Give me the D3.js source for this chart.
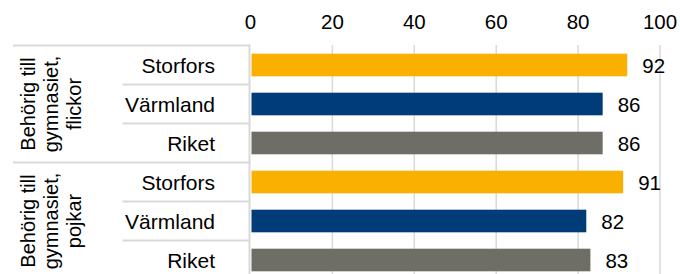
<!DOCTYPE html>
<html>
<head>
<meta charset="utf-8">
<script src="https://cdn.jsdelivr.net/npm/d3@7"></script>
<style>
  html, body { margin: 0; padding: 0; background: #fff; }
  svg { display: block; }
  text { font-family: "Liberation Sans", Arial, sans-serif; fill: #000; }
</style>
</head>
<body>
<svg id="chart" width="680" height="274"></svg>
<script>
// ---- data ----
const groups = [
  ["Behörig till", "gymnasiet,", "flickor"],
  ["Behörig till", "gymnasiet,", "pojkar"]
];
const categories = ["Storfors", "Värmland", "Riket"];
const girlsValues = [92, 86, 86];
const boysValues = [91, 82, 83];
const barColors = ["#F9B000", "#003C78", "#6E6D66"];
const xTicks = [0, 20, 40, 60, 80, 100];

// ---- build rows ----
const rows = [];
[girlsValues, boysValues].forEach((vals, g) => {
  categories.forEach((c, i) => {
    rows.push({ key: g + "-" + c, group: g, cat: c, idx: i, value: vals[i] });
  });
});

const svg = d3.select("#chart");
const gridColor = "#d9d9d9";

const x = d3.scaleLinear().domain([0, 100]).range([250.5, 660]);
const y = d3.scaleBand().domain(rows.map(r => r.key)).range([45.5, 279.5])
  .paddingInner(0.42).paddingOuter(0.21);
const step = y.step();
const rowTop = i => 45.5 + i * step;

// gridlines
svg.append("g").selectAll("line").data(xTicks.filter(t => t > 0)).join("line")
  .attr("x1", d => x(d)).attr("x2", d => x(d))
  .attr("y1", 45).attr("y2", 280)
  .attr("stroke", gridColor).attr("stroke-width", 1.5);

// top axis tick labels
const axis = svg.append("g").attr("transform", "translate(0,29)");
axis.selectAll("text").data(xTicks).join("text")
  .attr("x", d => x(d)).attr("y", 0)
  .attr("text-anchor", "middle")
  .style("font-size", "20.5px")
  .text(d => d);

// table lines
const tbl = svg.append("g").attr("stroke", gridColor).attr("stroke-width", 2);
for (let i = 0; i <= rows.length; i++) {
  const yy = rowTop(i);
  const startX = (i % categories.length === 0) ? 13 : 122.5;
  tbl.append("line").attr("x1", startX).attr("x2", 250).attr("y1", yy).attr("y2", yy);
}
// vertical axis line
tbl.append("line").attr("x1", 249.5).attr("x2", 249.5).attr("y1", 44.5).attr("y2", 280);

// bars
svg.append("g").selectAll("rect").data(rows).join("rect")
  .attr("x", x(0) + 1)
  .attr("y", d => y(d.key))
  .attr("width", d => x(d.value) - x(0) - 1)
  .attr("height", y.bandwidth())
  .attr("fill", d => barColors[d.idx]);

// value labels
svg.append("g").selectAll("text").data(rows).join("text")
  .attr("x", d => x(d.value) + 15)
  .attr("y", d => y(d.key) + y.bandwidth() / 2 + 7.5)
  .style("font-size", "20.5px")
  .text(d => d.value);

// category labels
svg.append("g").selectAll("text").data(rows).join("text")
  .attr("x", 215)
  .attr("y", d => y(d.key) + y.bandwidth() / 2 + 7.5)
  .attr("text-anchor", "end")
  .style("font-size", "21px")
  .text(d => d.cat);

// group labels (rotated)
groups.forEach((lines, g) => {
  const cy = (rowTop(g * 3) + rowTop(g * 3 + 3)) / 2;
  const t = svg.append("text")
    .attr("transform", `translate(0,${cy}) rotate(-90)`)
    .attr("text-anchor", "middle")
    .style("font-size", "20px");
  const baselines = [35, 58, 81];
  lines.forEach((ln, i) => {
    t.append("tspan").attr("x", 0).attr("y", baselines[i]).text(ln);
  });
});
</script>
</body>
</html>
